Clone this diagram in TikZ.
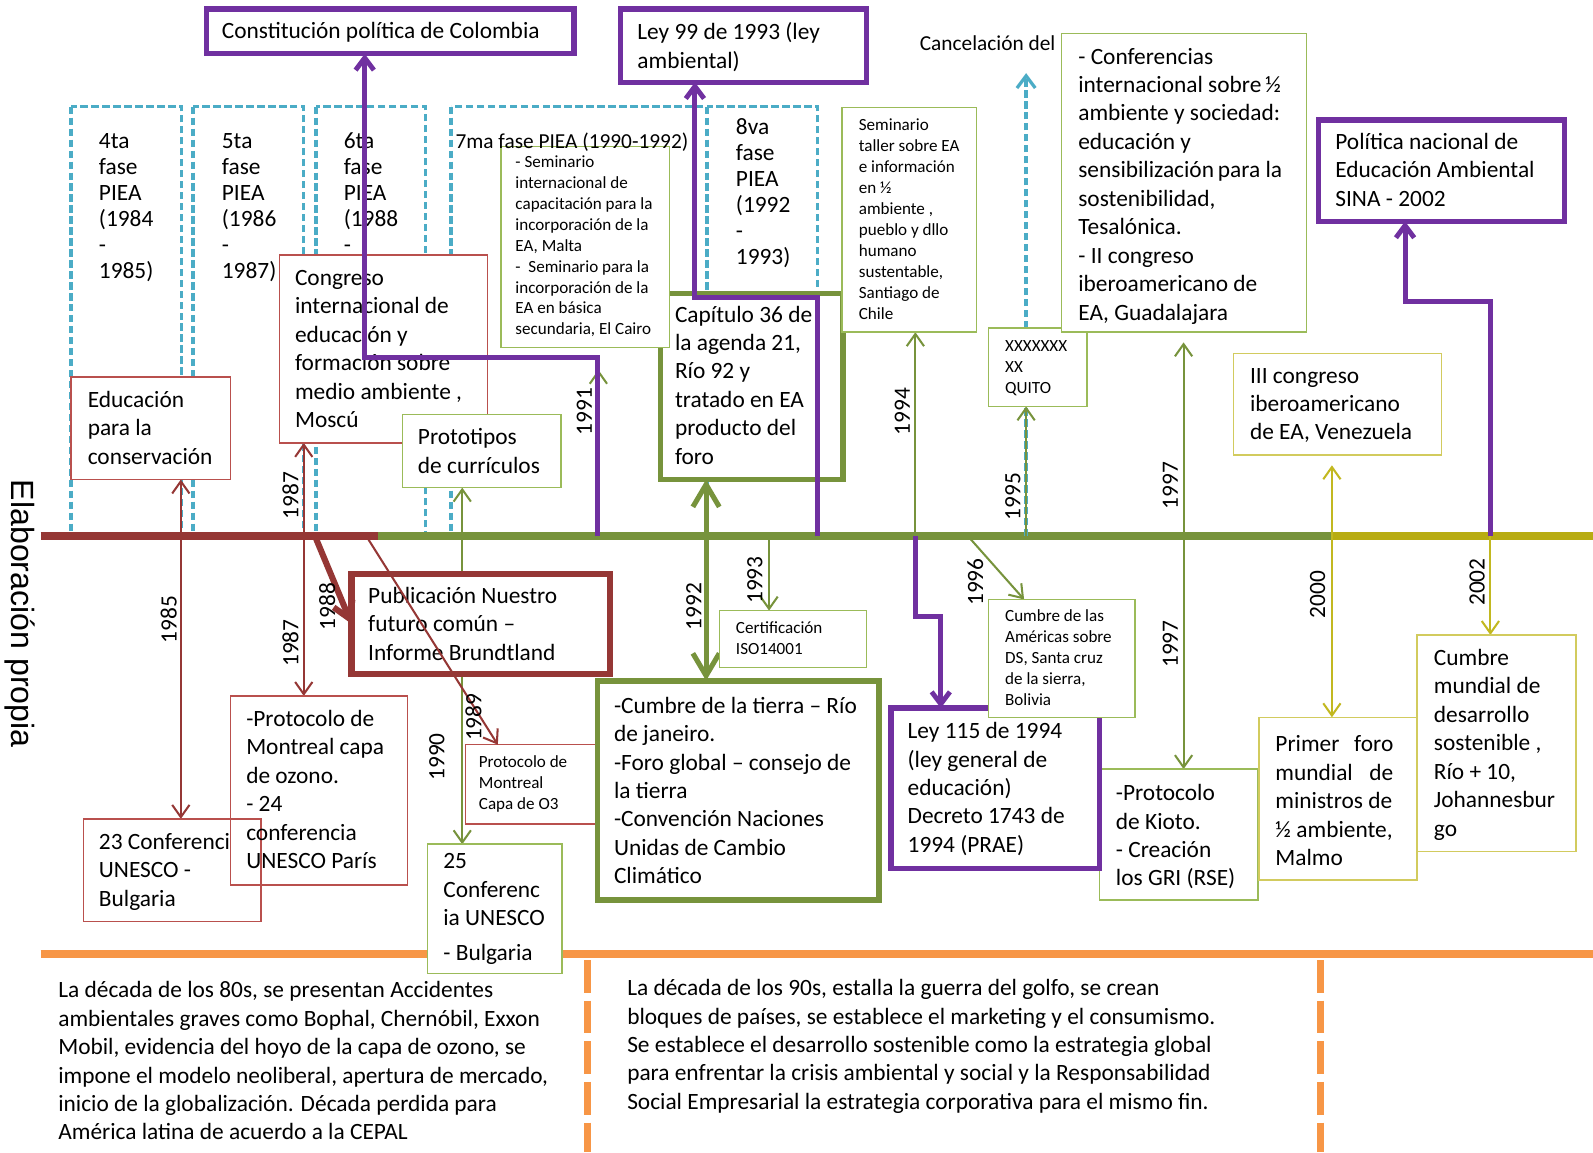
\documentclass[tikz,border=0pt]{standalone}
\usepackage{fontspec}
\setmainfont{Carlito}
\newfontfamily\arialfam{Liberation Sans}
\usetikzlibrary{arrows.meta}
\pgfdeclarelayer{bgA}
\pgfdeclarelayer{bgB}
\pgfdeclarelayer{fg}
\pgfsetlayers{bgA,bgB,main,fg}
\definecolor{cpurp}{HTML}{7030A0}
\definecolor{cdred}{HTML}{953735}
\definecolor{cbred}{HTML}{B9504D}
\definecolor{cgreen}{HTML}{77933C}
\definecolor{clgreen}{HTML}{9BBB59}
\definecolor{cyel}{HTML}{B8AC12}
\definecolor{cyelA}{HTML}{C2B820}
\definecolor{cyelB}{HTML}{D2CB5E}
\definecolor{cblue}{HTML}{4BACC6}
\definecolor{corange}{HTML}{F79646}
\tikzset{
 bx/.style={draw, inner sep=0pt, outer sep=0pt, anchor=north west, fill=white},
 redbox/.style={bx, draw=cbred, line width=0.75pt},
 redopen/.style={redbox, fill=none},
 redthick/.style={bx, draw=cdred, line width=3pt},
 grnbox/.style={bx, draw=clgreen, line width=0.75pt},
 grnthick/.style={bx, draw=cgreen, line width=2.8pt},
 yelbox/.style={bx, draw=cyelB, line width=0.75pt},
 purbox/.style={bx, draw=cpurp, line width=2.6pt},
 pieabox/.style={draw=cblue, line width=1.6pt, dash pattern=on 3.6pt off 1.8pt},
 tx/.style={anchor=north west, inner sep=0pt, align=left, font=\fontsize{11.5}{14}\selectfont},
 ntx/.style={anchor=north west, inner sep=0pt, align=left, font=\fontsize{10.5}{14}\selectfont},
 stx/.style={anchor=north west, inner sep=0pt, align=left, font=\fontsize{8.4}{10.3}\selectfont},
 ptx/.style={anchor=north west, inner sep=0pt, align=left, font=\fontsize{11.5}{12.8}\selectfont},
 yrs/.style={rotate=90, inner sep=0pt, font=\fontsize{11.5}{14}\selectfont},
 thinarr/.style={line width=1pt, -{Straight Barb[length=6pt,width=8.5pt]}},
 redarr/.style={thinarr, draw=cdred},
 grnarr/.style={thinarr, draw=cgreen},
 yelarr/.style={thinarr, draw=cyelA},
 bluearr/.style={draw=cblue, line width=1.6pt, dash pattern=on 3.6pt off 1.8pt, -{Straight Barb[length=6pt,width=9pt]}},
 grnthickarr/.style={draw=cgreen, line width=2.5pt, -{Straight Barb[length=11pt,width=13pt]}},
 redthickarr/.style={draw=cdred, line width=3pt, -{Straight Barb[length=8pt,width=10pt]}},
 purarr/.style={draw=cpurp, line width=2.4pt, -{Straight Barb[length=6pt,width=9pt]}},
}
\newcommand\MkBox[6]{\node[#1, minimum width={0.5pt*(#5-#3)}, minimum height={0.5pt*(#6-#4)}] (#2) at (#3,#4) {};}
\newcommand\TxtL[4]{\node[tx] (#1) at (#2,#3-13) {\strut #4};}
\newcommand\TxtN[4]{\node[ntx] (#1) at (#2,#3-13) {\strut #4};}
\newcommand\TxtS[4]{\node[stx] (#1) at (#2,#3-10) {\strut #4};}
\newcommand\TxtP[4]{\node[ptx] (#1) at (#2,#3-11.5) {\strut #4};}
\begin{document}
\begin{tikzpicture}[x=0.5pt,y=-0.5pt]
\useasboundingbox (0,0) rectangle (1568,1134);
\begin{pgfonlayer}{bgA}
\fill[white] (0,0) rectangle (1568,1134);
\draw[pieabox] (70,105) rectangle (179,528);
\draw[pieabox] (190,105) rectangle (299,528);
\draw[pieabox] (311,105) rectangle (419,528);
\draw[pieabox] (444,105) rectangle (696,528);
\draw[pieabox] (696,105) rectangle (805,528);
\draw[line width=3.6pt, corange] (40,939) -- (1568,939);
\draw[line width=3.5pt, corange, dash pattern=on 16pt off 4pt] (578,945) -- (578,1134);
\draw[line width=3.5pt, corange, dash pattern=on 16pt off 4pt] (1300,945) -- (1300,1134);
\draw[line width=3.9pt, cdred] (40,528) -- (372,528);
\draw[line width=3.9pt, cgreen] (372,528) -- (1312,528);
\draw[line width=3.9pt, cyel] (1312,528) -- (1568,528);
\end{pgfonlayer}

% boxes
\MkBox{purbox}{const}{203}{9}{565}{53}
\MkBox{purbox}{ley99}{611}{9}{853}{81}
\MkBox{purbox}{politica}{1298}{118}{1540}{218}
\MkBox{grnbox}{kioto}{1082}{757}{1238}{886}
\MkBox{purbox}{leyciento}{877}{697}{1082}{855}
\MkBox{grnbox}{americas}{973}{590}{1117}{706}
\MkBox{grnthick}{capitulo}{650}{289}{830}{472}
\MkBox{grnbox}{semsiete}{493}{144}{659}{342}
\MkBox{grnbox}{semtaller}{829}{106}{961}{327}
\MkBox{grnbox}{quito}{973}{323}{1070}{400}
\MkBox{grnbox}{confer}{1045}{33}{1286}{327}
\MkBox{redbox}{congreso}{275}{251}{480}{436}
\MkBox{grnbox}{proto}{396}{408}{552}{480}
\MkBox{redbox}{edu}{70}{371}{227}{472}
\MkBox{redbox}{protsmall}{458}{733}{588}{811}
\MkBox{grnthick}{tierra}{588}{670}{865}{886}
\MkBox{grnbox}{iso}{708}{601}{853}{657}
\MkBox{grnbox}{confveinti}{421}{831}{553}{958}
\MkBox{yelbox}{iii}{1214}{348}{1419}{448}
\MkBox{yelbox}{primer}{1239}{706}{1395}{866}
\MkBox{yelbox}{rio}{1395}{625}{1551}{838}
\MkBox{redopen}{conf23}{82}{806}{257}{907}
\MkBox{redopen}{protmont}{227}{685}{401}{871}
\MkBox{redthick}{brundt}{346}{565}{600}{663}

% texts of PIEA phases
\TxtP{tcuatro}{97}{139}{4ta\\fase\\PIEA\\(1984\\-\\1985)}
\TxtP{tcinco}{218}{139}{5ta\\fase\\PIEA\\(1986\\-\\1987)}
\TxtP{tseis}{338}{139}{6ta\\fase\\PIEA\\(1988\\-}
\TxtN{tsiete}{448}{139}{7ma fase PIEA (1990-1992)}
\TxtP{tocho}{724}{126}{8va\\fase\\PIEA\\(1992\\-\\1993)}
\TxtN{xcancel}{905}{43}{Cancelación del}

% box texts
\TxtL{xconst}{218}{31}{Constitución política de Colombia}
\TxtL{xley}{627}{32}{Ley 99 de 1993 (ley\\ambiental)}
\TxtL{xpol}{1314}{140}{Política nacional de\\Educación Ambiental\\SINA - 2002}
\TxtL{xleyc}{893}{720}{Ley 115 de 1994\\(ley general de\\educación)\\Decreto 1743 de\\1994 (PRAE)}
\TxtL{xedu}{86}{394}{Educación\\para la\\conservación}
\TxtL{xcong}{290}{274}{Congreso\\internacional de\\educación y\\formación sobre\\medio ambiente ,\\Moscú}
\TxtL{xprotm}{242}{708}{-Protocolo de\\Montreal capa\\de ozono.\\- 24\\conferencia\\UNESCO París}
\TxtL{xconf}{97}{829}{23 Conferenci\\UNESCO -\\Bulgaria}
\TxtS{xprots}{471}{751}{Protocolo de\\Montreal\\Capa de O3}
\TxtL{xbrun}{362}{587}{Publicación Nuestro\\futuro común –\\Informe Brundtland}
\TxtL{xproto}{411}{431}{Prototipos\\de currículos}
\TxtS{xsem}{507}{160}{- Seminario\\internacional de\\capacitación para la\\incorporación de la\\EA, Malta\\-\ \ Seminario para la\\incorporación de la\\EA en básica\\secundaria, El Cairo}
\TxtL{xcap}{664}{310}{Capítulo 36 de\\la agenda 21,\\Río 92 y\\tratado en EA\\producto del\\foro}
\TxtS{xtall}{845}{124}{Seminario\\taller sobre EA\\e información\\en ½\\ambiente ,\\pueblo y dllo\\humano\\sustentable,\\Santiago de\\Chile}
\TxtS{xquito}{989}{341}{XXXXXXX\\XX\\QUITO}
\TxtL{xconfer}{1061}{56}{- Conferencias\\internacional sobre\,½\\ambiente y sociedad:\\educación y\\sensibilización\,para la\\sostenibilidad,\\Tesalónica.\\- II congreso\\iberoamericano de\\EA, Guadalajara}
\TxtS{xiso}{724}{619}{Certificación\\ISO14001}
\TxtL{xtierra}{604}{695}{-Cumbre de la tierra – Río\\de janeiro.\\-Foro global – consejo de\\la tierra\\-Convención Naciones\\Unidas de Cambio\\Climático}
\TxtS{xamer}{989}{607}{Cumbre de las\\Américas sobre\\DS, Santa cruz\\de la sierra,\\Bolivia}
\TxtL{xveinti}{436}{848}{25\\Conferenc\\ia UNESCO\\[3pt]- Bulgaria}
\TxtL{xkioto}{1098}{781}{-Protocolo\\de Kioto.\\- Creación\\los GRI (RSE)}
\TxtL{xiii}{1230}{370}{III congreso\\iberoamericano\\de EA, Venezuela}
\TxtL{xprimer}{1255}{733}{\makebox[58pt][s]{Primer foro}\\\makebox[58pt][s]{mundial de}\\ministros de\\½ ambiente,\\Malmo}
\TxtL{xrio}{1411}{648}{Cumbre\\mundial de\\desarrollo\\sostenible ,\\Río + 10,\\Johannesbur\\go}
\TxtL{xochenta}{57}{975}{La década de los 80s, se presentan Accidentes\\ambientales graves como Bophal, Chernóbil, Exxon\\Mobil, evidencia del hoyo de la capa de ozono, se\\impone el modelo neoliberal, apertura de mercado,\\inicio de la globalización. Década perdida para\\América latina de acuerdo a la CEPAL}
\TxtL{xnoventa}{617}{973}{La década de los 90s, estalla la guerra del golfo, se crean\\bloques de países, se establece el marketing y el consumismo.\\Se establece el desarrollo sostenible como la estrategia global\\para enfrentar la crisis ambiental y social y la Responsabilidad\\Social Empresarial la estrategia corporativa para el mismo fin.}
\node[rotate=-90, inner sep=0pt, font=\arialfam\fontsize{15.8}{18}\selectfont] (elab) at (20,604) {Elaboración propia};

% thin connectors (under boxes)
\begin{pgfonlayer}{bgB}
\coordinate (t85) at (178,528);
\draw[redarr] (t85) -- (t85 |- edu.south);
\draw[redarr] (t85) -- (t85 |- conf23.north);
\coordinate (t87) at (299,528);
\draw[redarr] (t87) -- (t87 |- congreso.south);
\draw[redarr] (t87) -- (t87 |- protmont.north);
\coordinate (t90) at (455,528);
\draw[grnarr] (t90) -- (t90 |- proto.south);
\draw[grnarr] (t90) -- (t90 |- confveinti.north);
\coordinate (t91) at (589,528);
\draw[grnarr, shorten >=11pt] (t91) -- (t91 |- semsiete.south);
\coordinate (t92) at (695,528);
\draw[grnthickarr] (t92) -- (t92 |- capitulo.south);
\draw[grnthickarr] (t92) -- (t92 |- tierra.north);
\coordinate (t93) at (757,528);
\draw[grnarr] (t93) -- (t93 |- iso.north);
\coordinate (t94) at (901,528);
\draw[grnarr] (t94) -- (t94 |- semtaller.south);
\coordinate (t95) at (1010,528);
\coordinate (cancelend) at (1010,72);
\draw[bluearr] (t95) -- (cancelend);
\draw[grnarr] (t95) -- (t95 |- quito.south);
\coordinate (t96) at (953,528);
\draw[grnarr] (t96) -- ([xshift=17.5pt]americas.north west);
\coordinate (t97) at (1165,528);
\draw[grnarr, shorten >=5pt] (t97) -- (t97 |- confer.south);
\draw[grnarr] (t97) -- (t97 |- kioto.north);
\coordinate (t00) at (1311,528);
\draw[yelarr, shorten >=5pt] (t00) -- (t00 |- iii.south);
\draw[yelarr] (t00) -- (t00 |- primer.north);
\coordinate (t02) at (1467,528);
\draw[yelarr] (t02) -- (t02 |- rio.north);
\end{pgfonlayer}

\begin{pgfonlayer}{fg}
\coordinate (t88) at (311,530);
\draw[redthickarr] (t88) -- (brundt.west);
\coordinate (t89) at (362,530);
\draw[redarr] (t89) -- ([xshift=16pt]protsmall.north west);
\coordinate (pa) at (588,528); \coordinate (pab) at (359,352);
\draw[purarr] (pa) |- (pab) -- (pab |- const.south);
\coordinate (pb) at (805,528); \coordinate (pbb) at (684,293);
\draw[purarr] (pb) |- (pbb) -- (pbb |- ley99.south);
\coordinate (pc) at (901,528); \coordinate (pcb) at (926,607);
\draw[purarr] (pc) |- (pcb) -- (pcb |- leyciento.north);
\coordinate (pd) at (1467,528); \coordinate (pdb) at (1383,297);
\draw[purarr] (pd) |- (pdb) -- (pdb |- politica.south);
\node[yrs] (ya) at (166,610) {1985};
\node[yrs] (yb) at (286,488) {1987};
\node[yrs] (yc) at (286,633) {1987};
\node[yrs] (yd) at (322,597) {1988};
\node[yrs] (ye) at (466,706) {1989};
\node[yrs] (yf) at (430,745) {1990};
\node[yrs] (yg) at (575,405) {1991};
\node[yrs] (yh) at (683,597) {1992};
\node[yrs] (yi) at (743,571) {1993};
\node[yrs] (yj) at (888,405) {1994};
\node[yrs] (yk) at (997,489) {1995};
\node[yrs] (yl) at (960,573) {1996};
\node[yrs] (ym) at (1152,478) {1997};
\node[yrs] (yn) at (1152,634) {1997};
\node[yrs] (yo) at (1297,585) {2000};
\node[yrs] (yp) at (1454,573) {2002};
\end{pgfonlayer}
\end{tikzpicture}
\end{document}
